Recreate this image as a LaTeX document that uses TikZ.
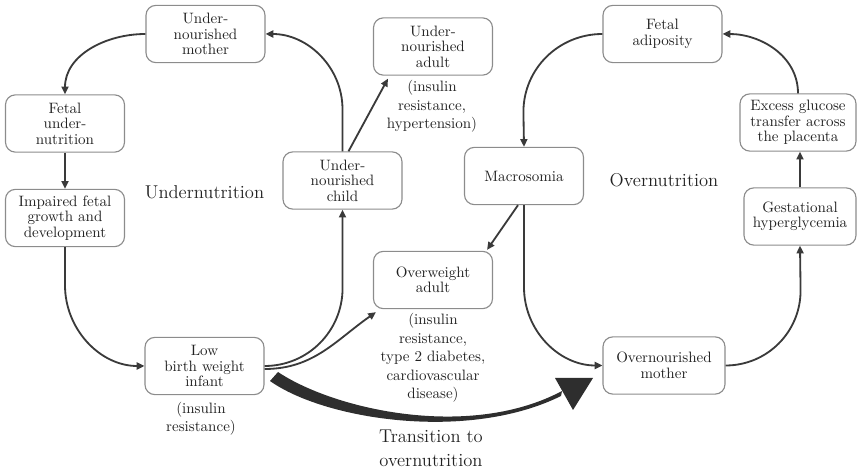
\documentclass[tikz,border=0pt]{standalone}
\usepackage[dvipsnames]{xcolor}
\usepackage{tikz}
\usetikzlibrary{arrows.meta, positioning, calc}

\definecolor{boxline}{HTML}{8C8C8C}
\definecolor{arrowline}{HTML}{3A3A3A}
\definecolor{txt}{HTML}{222222}
\definecolor{bandfill}{HTML}{2E2E2E}

\begin{document}
\begin{tikzpicture}[
  x=0.025cm, y=0.025cm,
  stage/.style={draw=boxline, line width=0.8pt, rounded corners=7pt, fill=white, minimum width=2.975cm, minimum height=1.43cm, inner sep=2pt, align=center, text=txt, font=\fontsize{10.7}{11}\selectfont},
  note/.style={align=center, text=txt, inner sep=1pt, font=\fontsize{10.7}{13.1}\selectfont},
  phase/.style={align=center, text=txt, inner sep=0pt, font=\fontsize{13.2}{17}\selectfont},
  arrow/.style={-{Triangle[length=5.5pt,width=5pt]}, line width=1.3pt, draw=arrowline}
]
\useasboundingbox (0,0) rectangle (857,474);

% undernutrition cycle
\node[stage] (umother)  at (205.5,440) {Under-\\nourished\\mother};
\node[stage] (fetalun)  at (65,350.5)  {Fetal\\under-\\nutrition};
\node[stage] (impaired) at (65,256)    {Impaired fetal\\growth and\\development};
\node[stage] (lbw)      at (204.5,108) {Low\\birth weight\\infant};
\node[stage] (uchild)   at (342.5,293.5) {Under-\\nourished\\child};
\node[stage] (uadult)   at (433,427.5) {Under-\\nourished\\adult};

% overnutrition cycle
\node[stage] (macro)    at (524,298)   {Macrosomia};
\node[stage] (owadult)  at (433,194)   {Overweight\\adult};
\node[stage, minimum width=3.05cm] (omother) at (664,108.5) {Overnourished\\mother};
\node[stage, minimum width=2.8cm]  (gest)    at (800,257.5) {Gestational\\hyperglycemia};
\node[stage, minimum width=2.9cm]  (excess)  at (798,351.5) {Excess glucose\\transfer across\\the placenta};
\node[stage] (fadip)    at (662.5,440) {Fetal\\adiposity};

% notes and labels
\node[note] (lbwnote)    at (201,55.5)  {(insulin\\resistance)};
\node[note] (uadultnote) at (432,367.5) {(insulin\\resistance,\\hypertension)};
\node[note] (ownote)     at (433,116)   {(insulin\\resistance,\\type 2 diabetes,\\cardiovascular\\disease)};
\node[phase] (under)     at (204.5,281.5) {Undernutrition};
\node[phase] (over)      at (664,294)   {Overnutrition};
\node[phase] (trans)     at (431,25.5)  {Transition to\\overnutrition};

\draw[arrow] (umother.west) to[out=180,in=90] (fetalun.north);
\draw[arrow] (fetalun) -- (impaired);
\draw[arrow] (impaired.south) -- ++(0,-38) to[out=-90,in=180] (lbw.west);
\draw[arrow] (lbw.east) to[out=0,in=-90] ++(78,78) -- (uchild.south);
\draw[arrow] (uchild.north) -- ++(0,42) to[out=90,in=0] (umother.east);
\draw[arrow] ($(uchild.north)+(6,0)$) -- ($(uadult.south west)+(15,-3)$);
\draw[arrow] ($(lbw.east)+(0,-3)$) to[out=0,in=215] ($(owadult.south west)+(3,-3)$);

\draw[arrow] (fadip.west) to[out=180,in=90] ++(-79,-78) -- (macro.north);
\draw[arrow] ($(macro.south)+(-6,0)$) -- ($(owadult.north east)+(-6,1)$);
\draw[arrow] (macro.south) -- ++(0,-82) to[out=-90,in=180] (omother.west);
\draw[arrow] (omother.east) to[out=0,in=-90] ++(75,75) -- (gest.south);
\draw[arrow] (gest.north) -- (gest.north |- excess.south);
\draw[arrow] (excess.north) to[out=90,in=0] (fadip.east);

% transition band
\fill[bandfill] (278,102) .. controls (335,64) and (470,34) .. (562,83)
  -- (561,78) .. controls (468,32) and (325,54) .. (270,93) -- cycle;
\fill[bandfill] (555,96) -- (593,96) -- (573,64) -- cycle;

\end{tikzpicture}
\end{document}
